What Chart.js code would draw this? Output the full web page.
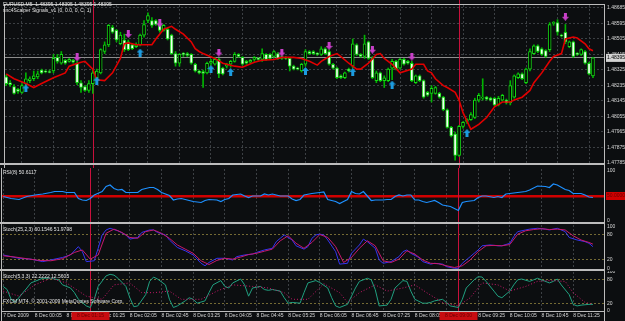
<!DOCTYPE html>
<html>
<head>
<meta charset="utf-8">
<script src="https://cdn.jsdelivr.net/npm/chart.js@4.4.1/dist/chart.umd.min.js"></script>
<style>
  body { margin: 0; background: #0c0e10; }
  #wrap { position: relative; width: 625px; height: 321px; overflow: hidden; }
  canvas { position: absolute; left: 0; }
</style>
</head>
<body>
<div id="wrap">
  <canvas id="priceChart" width="625" height="168" style="top:0"></canvas>
  <canvas id="rsiChart" width="625" height="56" style="top:168px"></canvas>
  <canvas id="stochSlow" width="625" height="47" style="top:224px"></canvas>
  <canvas id="stochFast" width="625" height="50" style="top:271px"></canvas>
</div>
<script>
// EURUSD M5 candles, one entry per bar (bar 0 = 7 Dec 23:25)
const opens = [1.48285,1.48251,1.48229,1.48212,1.48195,1.48246,1.48263,1.48274,1.48285,1.48325,
  1.48319,1.48316,1.48319,1.48398,1.48364,1.48381,1.48375,1.48381,1.48364,1.48251,
  1.48229,1.48206,1.48246,1.48280,1.48308,1.48432,1.48471,1.48572,1.48555,1.48477,
  1.48499,1.48488,1.48471,1.48460,1.48471,1.48527,1.48612,1.48612,1.48612,1.48600,
  1.48555,1.48561,1.48527,1.48420,1.48364,1.48420,1.48420,1.48415,1.48358,1.48319,
  1.48316,1.48308,1.48364,1.48358,1.48386,1.48336,1.48347,1.48358,1.48375,1.48415,
  1.48398,1.48375,1.48370,1.48386,1.48392,1.48386,1.48415,1.48415,1.48403,1.48420,
  1.48403,1.48398,1.48392,1.48347,1.48336,1.48319,1.48358,1.48432,1.48432,1.48420,
  1.48415,1.48448,1.48432,1.48358,1.48336,1.48291,1.48280,1.48330,1.48347,1.48471,
  1.48415,1.48403,1.48488,1.48392,1.48263,1.48308,1.48263,1.48263,1.48336,1.48375,
  1.48336,1.48386,1.48375,1.48364,1.48251,1.48291,1.48263,1.48195,1.48189,1.48189,
  1.48189,1.48167,1.48094,1.47992,1.47953,1.47829,1.47998,1.48026,1.48037,1.48049,
  1.48150,1.48161,1.48167,1.48161,1.48161,1.48122,1.48150,1.48150,1.48133,1.48167,
  1.48280,1.48302,1.48251,1.48330,1.48420,1.48465,1.48448,1.48437,1.48443,1.48595,
  1.48600,1.48527,1.48544,1.48460,1.48488,1.48420,1.48415,1.48432,1.48364,1.48291];
const highs = [1.48296,1.48263,1.48240,1.48218,1.48246,1.48308,1.48285,1.48319,1.48319,1.48330,
  1.48325,1.48325,1.48415,1.48415,1.48432,1.48386,1.48392,1.48386,1.48375,1.48263,
  1.48234,1.48263,1.48330,1.48330,1.48448,1.48488,1.48589,1.48584,1.48561,1.48544,
  1.48533,1.48499,1.48477,1.48482,1.48533,1.48612,1.48657,1.48629,1.48617,1.48612,
  1.48589,1.48567,1.48533,1.48432,1.48420,1.48426,1.48426,1.48420,1.48364,1.48325,
  1.48325,1.48370,1.48386,1.48398,1.48392,1.48341,1.48364,1.48381,1.48426,1.48420,
  1.48403,1.48381,1.48386,1.48403,1.48398,1.48448,1.48420,1.48420,1.48437,1.48426,
  1.48409,1.48403,1.48398,1.48353,1.48341,1.48364,1.48443,1.48437,1.48437,1.48426,
  1.48460,1.48454,1.48443,1.48364,1.48341,1.48296,1.48313,1.48336,1.48505,1.48477,
  1.48420,1.48527,1.48493,1.48403,1.48319,1.48313,1.48291,1.48336,1.48386,1.48381,
  1.48392,1.48392,1.48381,1.48375,1.48296,1.48296,1.48268,1.48201,1.48234,1.48229,
  1.48195,1.48172,1.48099,1.47998,1.47964,1.48004,1.48026,1.48043,1.48077,1.48161,
  1.48189,1.48274,1.48172,1.48167,1.48167,1.48172,1.48184,1.48156,1.48263,1.48296,
  1.48308,1.48308,1.48336,1.48448,1.48471,1.48471,1.48454,1.48443,1.48600,1.48606,
  1.48617,1.48533,1.48589,1.48493,1.48493,1.48426,1.48448,1.48437,1.48370,1.48398];
const lows = [1.48234,1.48229,1.48184,1.48189,1.48189,1.48234,1.48251,1.48263,1.48274,1.48302,
  1.48308,1.48308,1.48308,1.48364,1.48358,1.48358,1.48370,1.48364,1.48240,1.48195,
  1.48201,1.48195,1.48189,1.48263,1.48302,1.48420,1.48460,1.48538,1.48488,1.48471,
  1.48432,1.48437,1.48443,1.48454,1.48465,1.48516,1.48600,1.48572,1.48584,1.48544,
  1.48550,1.48499,1.48415,1.48347,1.48347,1.48403,1.48403,1.48358,1.48313,1.48302,
  1.48223,1.48302,1.48353,1.48353,1.48280,1.48296,1.48336,1.48341,1.48370,1.48398,
  1.48353,1.48358,1.48364,1.48375,1.48381,1.48375,1.48381,1.48386,1.48398,1.48386,
  1.48386,1.48386,1.48319,1.48325,1.48325,1.48313,1.48347,1.48415,1.48415,1.48409,
  1.48409,1.48415,1.48353,1.48330,1.48274,1.48274,1.48274,1.48313,1.48336,1.48409,
  1.48398,1.48392,1.48386,1.48274,1.48251,1.48257,1.48223,1.48257,1.48268,1.48325,
  1.48330,1.48353,1.48358,1.48257,1.48246,1.48257,1.48161,1.48172,1.48139,1.48184,
  1.48161,1.48088,1.47987,1.47936,1.47801,1.47823,1.47987,1.48015,1.48032,1.48043,
  1.48139,1.48150,1.48150,1.48144,1.48116,1.48116,1.48144,1.48127,1.48122,1.48161,
  1.48274,1.48268,1.48246,1.48319,1.48415,1.48426,1.48409,1.48398,1.48432,1.48584,
  1.48527,1.48516,1.48477,1.48454,1.48398,1.48409,1.48409,1.48358,1.48296,1.48280];
const closes = [1.48246,1.48240,1.48189,1.48201,1.48234,1.48274,1.48274,1.48291,1.48302,1.48308,
  1.48313,1.48310,1.48392,1.48375,1.48415,1.48364,1.48386,1.48370,1.48251,1.48223,
  1.48206,1.48246,1.48308,1.48319,1.48443,1.48471,1.48584,1.48544,1.48499,1.48527,
  1.48443,1.48443,1.48448,1.48471,1.48527,1.48589,1.48640,1.48584,1.48589,1.48555,
  1.48584,1.48505,1.48420,1.48364,1.48415,1.48415,1.48409,1.48364,1.48319,1.48308,
  1.48305,1.48364,1.48375,1.48386,1.48302,1.48302,1.48358,1.48375,1.48415,1.48403,
  1.48358,1.48364,1.48381,1.48398,1.48386,1.48420,1.48386,1.48392,1.48432,1.48392,
  1.48392,1.48392,1.48347,1.48330,1.48330,1.48358,1.48432,1.48420,1.48420,1.48415,
  1.48448,1.48420,1.48358,1.48336,1.48280,1.48280,1.48308,1.48319,1.48477,1.48415,
  1.48403,1.48477,1.48392,1.48280,1.48308,1.48263,1.48280,1.48330,1.48375,1.48330,
  1.48386,1.48358,1.48364,1.48263,1.48291,1.48263,1.48167,1.48178,1.48218,1.48223,
  1.48167,1.48094,1.47992,1.47942,1.47829,1.47998,1.48021,1.48037,1.48066,1.48150,
  1.48178,1.48167,1.48156,1.48150,1.48122,1.48161,1.48178,1.48133,1.48234,1.48291,
  1.48302,1.48274,1.48330,1.48432,1.48465,1.48432,1.48415,1.48403,1.48589,1.48600,
  1.48544,1.48522,1.48488,1.48488,1.48403,1.48415,1.48443,1.48364,1.48302,1.48395];

// red moving average, read at these bars
const maBars = [0,2,5,7,9,12,15,16,19,20,22,23,25,27,29,30,31,33,34,37,38,40,42,43,45,47,48,49,50,53,
  55,58,60,63,65,68,70,73,75,77,79,80,82,84,85,87,89,90,92,94,95,96,98,100,103,104,106,107,108,109,
  111,112,114,115,116,118,120,122,124,126,128,129,131,133,134,136,138,139,141,142,144,145,147,148,149];
const ma = [1.48302,1.48274,1.48246,1.48223,1.48246,1.48280,1.48308,1.48347,1.48370,1.48375,
  1.48330,1.48268,1.48263,1.48308,1.48392,1.48477,1.48482,1.48471,1.48471,1.48471,
  1.48505,1.48561,1.48578,1.48561,1.48533,1.48488,1.48448,1.48432,1.48420,1.48392,
  1.48364,1.48347,1.48341,1.48370,1.48381,1.48386,1.48398,1.48398,1.48392,1.48375,
  1.48353,1.48375,1.48403,1.48420,1.48403,1.48364,1.48330,1.48330,1.48364,1.48415,
  1.48420,1.48392,1.48358,1.48308,1.48330,1.48358,1.48358,1.48319,1.48308,1.48274,
  1.48234,1.48223,1.48195,1.48150,1.48077,1.47981,1.48009,1.48049,1.48111,1.48139,
  1.48139,1.48150,1.48167,1.48206,1.48251,1.48308,1.48375,1.48403,1.48420,1.48505,
  1.48516,1.48510,1.48477,1.48448,1.48437];

// scalper signal arrows
const sellBars = [18, 31, 39, 54, 70, 82, 93, 103, 142];
const sellPrices = [1.48398, 1.48533, 1.48595, 1.48426, 1.48426, 1.48465, 1.48443, 1.48403, 1.48634];
const buyBars = [5, 23, 34, 52, 57, 76, 88, 98, 117];
const buyPrices = [1.48218, 1.48263, 1.48426, 1.48330, 1.48313, 1.48319, 1.48313, 1.48240, 1.47959];

// RSI(8)
const rsiBars = [0,2,4,6,8,10,12,13,15,16,18,19,20,21,22,23,25,26,27,28,29,30,31,32,34,35,37,38,39,40,
  42,43,44,45,47,48,50,51,52,54,55,56,57,58,60,61,62,63,65,66,67,68,69,70,72,73,74,75,76,78,
  80,81,82,84,85,86,87,88,89,90,91,92,93,94,96,97,98,99,100,101,102,103,104,105,106,107,108,109,110,111,
  113,115,116,117,119,120,121,122,124,125,126,127,128,130,132,133,135,137,138,139,140,142,143,144,146,147,148,149];
const rsi = [49,45,43,49,52,54,57,59,59,57,57,45,42,41,45,52,59,69,72,65,62,63,57,57,57,63,67,67,63,57,
  51,42,44,45,41,39,37,41,43,42,39,43,45,52,54,50,47,50,50,54,52,54,52,50,50,44,41,43,52,55,
  57,58,43,39,35,39,43,59,55,54,59,50,41,42,42,43,43,49,52,50,52,52,42,42,39,37,39,41,37,32,
  29,21,37,39,41,47,50,50,47,49,47,54,55,57,59,62,70,69,67,74,72,63,61,55,55,52,48,47];

// Stochastic(25,2,3)
const slowBars = [0,2,4,7,10,12,15,17,19,20,21,23,24,25,26,27,29,31,32,34,35,37,38,39,41,42,44,46,48,50,
  51,52,54,56,58,59,61,63,64,66,68,69,70,71,73,74,76,77,78,79,80,81,82,84,85,87,88,90,91,92,
  94,95,96,98,100,101,102,103,105,106,108,109,111,112,114,115,116,118,119,120,121,123,125,126,128,129,130,132,133,135,
  137,138,140,142,143,145,147,148,149];
const slowMain = [32,28,24,22,16,20,26,32,52,40,16,18,48,80,92,96,90,80,70,74,86,92,92,86,80,68,50,42,32,12,
  6,14,24,24,20,28,32,34,38,44,48,64,72,80,68,54,46,52,72,80,82,80,68,40,10,12,36,56,70,64,
  48,20,12,16,28,40,44,36,26,16,10,12,10,4,0,0,12,28,36,44,54,56,54,54,60,76,88,92,94,96,
  94,92,96,88,74,68,64,60,52];
const slowSignalBars = [0,3,6,9,12,15,18,20,22,24,26,28,30,32,34,36,38,40,42,44,46,48,50,52,54,56,58,60,62,64,
  66,68,70,72,74,76,78,80,82,84,86,88,90,92,94,96,98,100,102,104,106,108,110,112,114,116,118,120,122,124,
  126,128,130,132,134,136,138,140,142,144,146,148,149];
const slowSignal = [30,27,23,19,18,23,38,44,22,32,84,94,86,74,72,88,92,84,72,56,46,36,18,9,19,24,22,27,33,36,
  41,46,66,78,60,48,62,81,74,52,14,26,48,66,54,18,14,22,42,34,20,12,11,6,2,6,20,40,54,55,
  54,57,82,90,93,95,93,94,92,78,68,62,58];

// Stochastic(5,3,3)
const fastBars = [0,1,2,3,5,6,7,9,10,12,14,15,17,18,19,21,22,23,24,26,27,28,29,31,32,33,34,36,37,38,
  39,41,42,43,44,46,47,48,49,51,52,53,55,56,57,58,60,61,62,63,65,66,67,68,70,71,72,73,75,76,
  77,79,80,82,83,84,85,87,88,89,90,92,93,94,95,97,98,99,101,102,103,104,106,107,108,109,111,112,113,115,
  116,117,119,120,121,122,124,125,126,128,129,130,131,133,134,135,136,138,139,140,141,143,144,145,146,148,149];
const fastMain = [63,55,30,22,47,59,72,80,84,84,80,67,59,47,30,13,9,30,63,90,94,92,84,63,34,11,13,42,76,87,
  82,67,30,9,13,26,34,30,20,26,47,67,78,63,59,72,82,67,38,59,63,55,53,55,51,34,20,22,20,47,
  72,78,73,59,34,13,9,17,38,59,76,84,80,55,13,15,30,59,78,76,51,30,20,20,22,26,30,22,13,9,
  30,59,80,88,87,76,51,38,34,51,67,80,82,76,80,84,80,72,76,82,67,42,17,13,15,17,17];
const fastSignalBars = [0,4,8,12,16,21,25,28,32,35,38,42,45,50,54,58,63,67,71,73,77,81,85,87,90,94,97,101,104,107,
  111,115,118,121,125,128,132,135,138,142,144,147,149];
const fastSignal = [51,38,67,84,72,38,30,67,72,47,47,51,30,30,51,67,63,59,47,30,30,70,47,22,47,67,51,59,67,47,
  22,13,34,72,67,51,63,76,78,76,47,22,17];

// axes
const timeLabels = ['7 Dec 2009', '8 Dec 00:05', '8 Dec 00:45', '8 Dec 01:25', '8 Dec 02:05', '8 Dec 02:45',
  '8 Dec 03:25', '8 Dec 04:05', '8 Dec 04:45', '8 Dec 05:25', '8 Dec 06:05', '8 Dec 06:45', '8 Dec 07:25',
  '8 Dec 08:05', '8 Dec 08:45', '8 Dec 09:25', '8 Dec 10:05', '8 Dec 10:45', '8 Dec 11:25'];
const barsPerLabel = 8;
const priceTicks = [1.47785, 1.47875, 1.47965, 1.48055, 1.48145, 1.48235, 1.48325, 1.48415, 1.48505, 1.48595, 1.48685];
const lastPrice = 1.48395;
const cursorBars = [22, 115];
const cursorLabels = ['8 Dec 01:15', '8 Dec 09:00'];

const panelTexts = {
  priceChart: [['EURUSD,M5  1.48395 1.48395 1.48395 1.48395', 3, 5], ['snc4Scalper Signals_v1 (0, 0.0, 0, C, 1)', 3, 11]],
  rsiChart: [['RSI(8) 50.6117', 3, 5]],
  stochSlow: [['Stoch(25,2,3) 60.1546 51.9798', 3, 6]],
  stochFast: [['Stoch(5,3,3) 22.2222 12.5605', 3, 6], ['FXCM MT4, \u00a9 2001-2009 MetaQuotes Software Corp.', 3, 31]]
};

const FONT = '"Liberation Sans", Arial, sans-serif';
Chart.defaults.font.family = FONT;

const pts = (xs, ys) => xs.map((x, i) => ({ x: x, y: ys[i] }));

function arrowImage(color, up) {
  const c = document.createElement('canvas');
  c.width = 7; c.height = 8;
  const g = c.getContext('2d');
  const shape = up
    ? [[3.5, 0], [7, 4], [5, 4], [5, 8], [2, 8], [2, 4], [0, 4]]
    : [[3.5, 8], [7, 4], [5, 4], [5, 0], [2, 0], [2, 4], [0, 4]];
  g.fillStyle = color;
  g.beginPath();
  shape.forEach(([x, y], i) => i ? g.lineTo(x, y) : g.moveTo(x, y));
  g.closePath();
  g.fill();
  return c;
}

// background, red cursor lines, frames and the little MT4 captions
const mtPanel = {
  id: 'mtPanel',
  beforeDraw(chart) {
    const ctx = chart.ctx;
    ctx.save();
    ctx.fillStyle = '#0c0e10';
    ctx.fillRect(0, 0, chart.width, chart.height);
    ctx.restore();
  },
  beforeDatasetsDraw(chart) {
    const { ctx, chartArea, scales } = chart;
    const last = chart.canvas.id === 'stochFast';
    ctx.save();
    ctx.strokeStyle = '#c8103c';
    ctx.lineWidth = 1;
    cursorBars.forEach(b => {
      const x = Math.round(scales.x.getPixelForValue(b)) + 0.5;
      ctx.beginPath();
      ctx.moveTo(x, 0);
      ctx.lineTo(x, last ? chartArea.bottom : chart.height);
      ctx.stroke();
    });
    ctx.restore();
  },
  afterDraw(chart) {
    const { ctx, chartArea: a, scales } = chart;
    const id = chart.canvas.id;
    ctx.save();
    ctx.fillStyle = '#bcbcbc';
    ctx.fillRect(a.left - 1, id === 'priceChart' ? a.top - 1 : 0, 1, chart.height);
    ctx.fillRect(a.right, id === 'priceChart' ? a.top - 1 : 0, 1, chart.height);
    if (id === 'priceChart') ctx.fillRect(a.left - 1, a.top - 1, a.right - a.left + 2, 1);
    if (id === 'stochFast') {
      ctx.fillRect(a.left - 1, a.bottom, a.right - a.left + 2, 1);
    } else {
      ctx.fillRect(0, a.bottom, a.right + 1, 2);
    }
    ctx.font = '5px ' + FONT;
    ctx.textBaseline = 'middle';
    ctx.fillStyle = '#e2e2e2';
    (panelTexts[id] || []).forEach(([t, x, y]) => ctx.fillText(t, x, y));
    if (id === 'stochFast') {
      ctx.textAlign = 'center';
      cursorBars.forEach((b, i) => {
        const x = Math.round(scales.x.getPixelForValue(b)) + 0.5;
        ctx.fillStyle = '#c80c10';
        ctx.fillRect(x - 19, a.bottom + 1, 38, 8);
        ctx.fillStyle = '#6a0000';
        ctx.fillText(cursorLabels[i], x, a.bottom + 5);
      });
    }
    ctx.restore();
  }
};

function timeAxis(showLabels) {
  return {
    type: 'linear', min: -0.3, max: 151.8, offset: false,
    afterBuildTicks: s => { s.ticks = timeLabels.map((t, k) => ({ value: k * barsPerLabel })); },
    afterFit: s => { s.height = showLabels ? 10 : 0; s.paddingLeft = 0; s.paddingRight = 0; },
    grid: { color: '#3c4044', drawTicks: false },
    border: { display: false, dash: [2, 2] },
    ticks: {
      display: showLabels, align: 'start', autoSkip: false, maxRotation: 0, padding: 2,
      color: '#d6d6d6', font: { size: 5 },
      callback: (v, k) => timeLabels[k]
    }
  };
}

function rightAxis(min, max, values, extra) {
  const axis = {
    position: 'right', min: min, max: max,
    afterBuildTicks: s => { s.ticks = values.map(v => ({ value: v })); },
    afterFit: s => { s.width = 21; s.paddingTop = 0; s.paddingBottom = 0; },
    grid: { drawTicks: false, color: 'rgba(0,0,0,0)' },
    border: { display: false },
    ticks: { autoSkip: false, padding: 3, color: '#d6d6d6', font: { size: 5 } }
  };
  Object.keys(extra).forEach(k => { axis[k] = Object.assign(axis[k] || {}, extra[k]); });
  return axis;
}

function baseOptions(padding, yAxis, showTime) {
  return {
    responsive: false, animation: false, devicePixelRatio: 1, events: [],
    layout: { padding: padding },
    plugins: { legend: { display: false }, tooltip: { enabled: false } },
    scales: { x: timeAxis(showTime), y: yAxis }
  };
}

const isLast = c => c.tick && c.tick.value === lastPrice;

const priceChart = new Chart(document.getElementById('priceChart'), {
  type: 'bar',
  data: {
    datasets: [
      {
        type: 'line', data: pts(maBars, ma), borderColor: '#e00000', borderWidth: 1.6,
        pointRadius: 0, order: 1
      },
      {
        type: 'line', data: pts(sellBars, sellPrices), showLine: false,
        pointStyle: arrowImage('#c840c8', false), order: 0
      },
      {
        type: 'line', data: pts(buyBars, buyPrices), showLine: false,
        pointStyle: arrowImage('#1c9ce0', true), order: 0
      },
      {
        data: lows.map((l, i) => ({ x: i, y: [l, highs[i]] })),
        backgroundColor: '#00b400', barThickness: 1, grouped: false, order: 3
      },
      {
        data: opens.map((o, i) => ({ x: i, y: [o, closes[i]] })),
        backgroundColor: opens.map((o, i) => closes[i] < o ? '#f2fff2' : '#000000'),
        borderColor: '#14d814', borderWidth: 1, borderSkipped: false,
        barThickness: 3, minBarLength: 1, grouped: false, order: 2
      }
    ]
  },
  options: baseOptions({ left: 2, top: 2, bottom: 3, right: 0 },
    rightAxis(1.47785, 1.48702, priceTicks.concat(lastPrice), {
      grid: { color: c => isLast(c) ? '#8c8c8c' : '#3c4044' },
      border: { dash: c => isLast(c) ? [] : [2, 2] },
      ticks: {
        color: c => isLast(c) ? '#000000' : '#d6d6d6',
        showLabelBackdrop: c => isLast(c),
        backdropColor: '#d4d4d4',
        backdropPadding: { top: 1, bottom: 1, left: 1, right: 8 },
        callback: v => v.toFixed(5)
      }
    }), false),
  plugins: [mtPanel]
});

const rsiChart = new Chart(document.getElementById('rsiChart'), {
  type: 'line',
  data: {
    datasets: [{ data: pts(rsiBars, rsi), borderColor: '#1e90ff', borderWidth: 1.2, pointRadius: 0 }]
  },
  options: baseOptions({ left: 2, top: 1, bottom: 2, right: 0 },
    rightAxis(-2, 104, [0, 50, 100], {
      grid: {
        color: c => c.tick && c.tick.value === 50 ? '#d00000' : 'rgba(0,0,0,0)',
        lineWidth: c => c.tick && c.tick.value === 50 ? 2.5 : 1
      },
      ticks: {
        color: c => c.tick.value === 50 ? '#6a0000' : '#d6d6d6',
        showLabelBackdrop: c => c.tick.value === 50,
        backdropColor: '#d00000',
        backdropPadding: { top: 1, bottom: 1, left: 1, right: 8 },
        callback: v => v === 50 ? '50.0000' : String(v)
      }
    }), false),
  plugins: [mtPanel]
});

const levelGrid = {
  grid: { color: c => c.tick && (c.tick.value === 20 || c.tick.value === 80) ? '#746a34' : 'rgba(0,0,0,0)' },
  border: { dash: [2, 2] }
};

const stochSlow = new Chart(document.getElementById('stochSlow'), {
  type: 'line',
  data: {
    datasets: [
      { data: pts(slowSignalBars, slowSignal), borderColor: '#c8186c', borderWidth: 1, pointRadius: 0 },
      { data: pts(slowBars, slowMain), borderColor: '#3434f0', borderWidth: 1, pointRadius: 0 }
    ]
  },
  options: baseOptions({ left: 2, top: 1, bottom: 2, right: 0 },
    rightAxis(-1.7, 103.9, [0, 20, 80, 100], levelGrid), false),
  plugins: [mtPanel]
});

const stochFast = new Chart(document.getElementById('stochFast'), {
  type: 'line',
  data: {
    datasets: [
      { data: pts(fastSignalBars, fastSignal), borderColor: '#c8186a', borderWidth: 1, borderDash: [1, 2], pointRadius: 0 },
      { data: pts(fastBars, fastMain), borderColor: '#20a080', borderWidth: 1, pointRadius: 0 }
    ]
  },
  options: baseOptions({ left: 2, top: 1, bottom: 0, right: 0 },
    rightAxis(0, 100, [0, 20, 80, 100], levelGrid), true),
  plugins: [mtPanel]
});
</script>
</body>
</html>
